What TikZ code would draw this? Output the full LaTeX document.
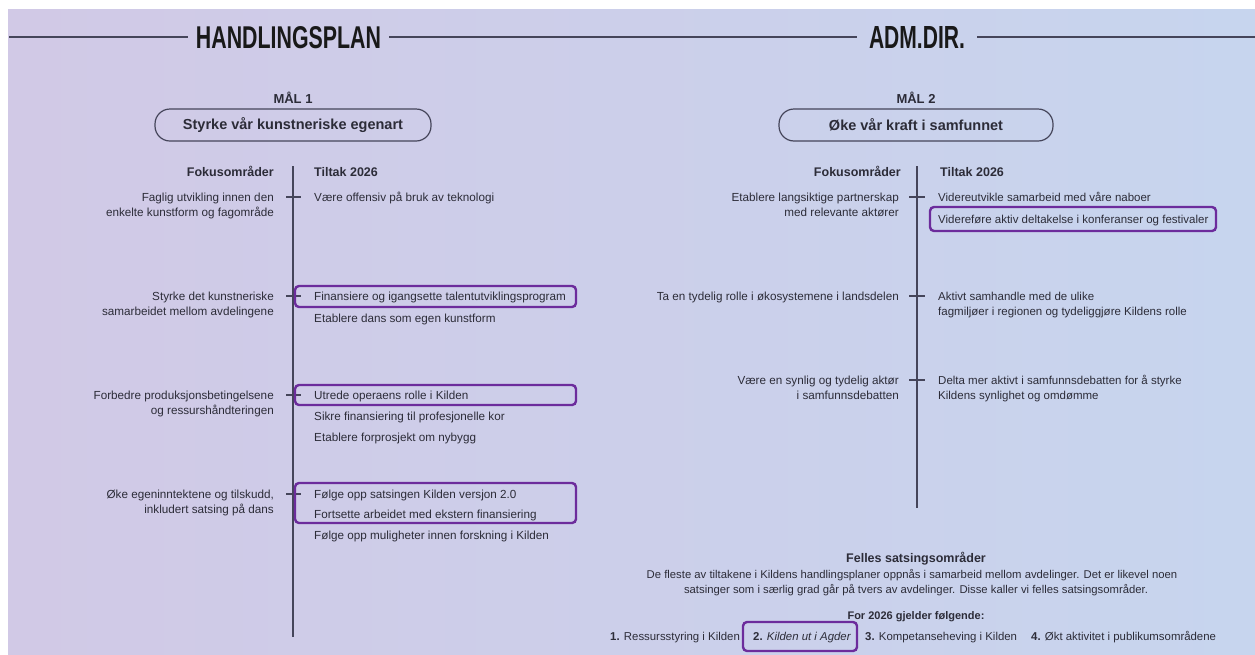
\documentclass[tikz,border=0pt]{standalone}
\usepackage{fontspec}
\setmainfont{Liberation Sans}
\usepackage{graphicx}
\definecolor{bgL}{HTML}{D1C9E6}
\definecolor{bgR}{HTML}{C7D5EE}
\definecolor{ink}{HTML}{2C2C38}
\definecolor{rulec}{HTML}{45455A}
\definecolor{hl}{HTML}{6C2C9C}
\begin{document}
\begin{tikzpicture}[x=1pt,y=-1pt,
  hdr/.style={inner xsep=11pt, inner ysep=0pt, text=black!90},
  hline/.style={draw=rulec, line width=1.4pt},
  vline/.style={draw=rulec, line width=1.6pt},
  mal/.style={font=\bfseries\fontsize{13}{15}\selectfont, text=ink, inner sep=0pt},
  goal/.style={draw=rulec, line width=1.2pt, rounded corners=15pt, minimum height=32pt,
    font=\bfseries\fontsize{14.5}{17}\selectfont, text=ink, inner sep=0pt},
  colhead/.style={font=\bfseries\fontsize{12.5}{15}\selectfont, text=ink, inner sep=0pt},
  focus/.style={font=\fontsize{11.7}{15.5}\selectfont, text=ink, inner sep=0pt, align=right, anchor=base east},
  tiltak/.style={font=\fontsize{11.7}{15.5}\selectfont, text=ink, inner sep=0pt, align=left, anchor=base west},
  rtiltak/.style={tiltak, font=\fontsize{11.5}{15.5}\selectfont},
  tick/.style={draw=rulec, line width=1.2pt},
  hlbox/.style={draw=hl, line width=2.4pt, rounded corners=4pt},
  para/.style={font=\fontsize{11.3}{15}\selectfont, text=ink, inner sep=0pt, anchor=base},
  item/.style={font=\fontsize{11.4}{14}\selectfont, text=ink, inner sep=0pt, anchor=base west}
]
\useasboundingbox (0,0) rectangle (1255,654);
\fill[white] (0,0) rectangle (1255,654);
\shade[left color=bgL, right color=bgR] (8,9) rectangle (1255,654);

% headers
\node[hdr, inner xsep=8pt] (h1) at (288.5,37.5) {\resizebox{185pt}{22pt}{\bfseries HANDLINGSPLAN}};
\node[hdr, inner xsep=12pt] (h2) at (917,37.5) {\resizebox{96pt}{22pt}{\bfseries ADM.DIR.}};
\coordinate (hl0) at (9,37);
\coordinate (hr0) at (1255,37);
\draw[hline] (hl0) -- (hl0 -| h1.west);
\draw[hline] (hl0 -| h1.east) -- (hl0 -| h2.west);
\draw[hline] (hl0 -| h2.east) -- (hr0);

% goals
\node[mal] (m1) at (293,98) {MÅL 1};
\node[mal] (m2) at (916,98) {MÅL 2};
\node[goal, minimum width=276pt] (g1) at (293,125) {Styrke vår kunstneriske egenart};
\node[goal, minimum width=274pt] (g2) at (916,125) {Øke vår kraft i samfunnet};

% ===== left section =====
\coordinate (lt) at (293,166);
\coordinate (lb) at (293,637);
\draw[vline] (lt) -- (lb);
\node[colhead, anchor=base east] (lfh) at (274,176) {Fokusområder};
\node[colhead, anchor=base west] (lth) at (314,176) {Tiltak 2026};

\foreach \y in {197,296,395,494} \draw[tick] (286,\y) -- (301,\y);

% two-line nodes: anchor is the baseline of the last line
\node[focus] (lf1) at (274,216.5) {Faglig utvikling innen den\\enkelte kunstform og fagområde};
\node[focus] (lf2) at (274,315.5) {Styrke det kunstneriske\\samarbeidet mellom avdelingene};
\node[focus] (lf3) at (274,414.5) {Forbedre produksjonsbetingelsene\\og ressurshåndteringen};
\node[focus] (lf4) at (274,513.5) {Øke egeninntektene og tilskudd,\\inkludert satsing på dans};

\node[tiltak] (lt11) at (314,201) {Være offensiv på bruk av teknologi};
\node[tiltak] (lt21) at (314,300) {Finansiere og igangsette talentutviklingsprogram};
\node[tiltak] (lt22) at (314,322) {Etablere dans som egen kunstform};
\node[tiltak] (lt31) at (314,399) {Utrede operaens rolle i Kilden};
\node[tiltak] (lt32) at (314,420) {Sikre finansiering til profesjonelle kor};
\node[tiltak] (lt33) at (314,441) {Etablere forprosjekt om nybygg};
\node[tiltak] (lt41) at (314,498) {Følge opp satsingen Kilden versjon 2.0};
\node[tiltak] (lt42) at (314,518) {Fortsette arbeidet med ekstern finansiering};
\node[tiltak] (lt43) at (314,539) {Følge opp muligheter innen forskning i Kilden};

\draw[hlbox] (295,286) rectangle (576,307);
\draw[hlbox] (295,385) rectangle (576,405);
\draw[hlbox] (295,483) rectangle (576,523);

% ===== right section =====
\coordinate (rt) at (917,166);
\coordinate (rb) at (917,508);
\draw[vline] (rt) -- (rb);
\node[colhead, anchor=base east] (rfh) at (901,176) {Fokusområder};
\node[colhead, anchor=base west] (rth) at (940,176) {Tiltak 2026};

\foreach \y in {197,296,380} \draw[tick] (909,\y) -- (925,\y);

\node[focus] (rf1) at (899,216.5) {Etablere langsiktige partnerskap\\med relevante aktører};
\node[focus] (rf2) at (899,300) {Ta en tydelig rolle i økosystemene i landsdelen};
\node[focus] (rf3) at (899,399.5) {Være en synlig og tydelig aktør\\i samfunnsdebatten};

\node[rtiltak] (rt11) at (938,201) {Videreutvikle samarbeid med våre naboer};
\node[rtiltak] (rt12) at (938,223) {Videreføre aktiv deltakelse i konferanser og festivaler};
\node[rtiltak] (rt21) at (938,315.5) {Aktivt samhandle med de ulike\\fagmiljøer i regionen og tydeliggjøre Kildens rolle};
\node[rtiltak] (rt31) at (938,399.5) {Delta mer aktivt i samfunnsdebatten for å styrke\\Kildens synlighet og omdømme};

\draw[hlbox] (930,207) rectangle (1216,231);

% ===== bottom =====
\node[para, font=\bfseries\fontsize{12.5}{15}\selectfont] (fs) at (916,562) {Felles satsingsområder};
\node[para] (p1) at (912,578) {De fleste av tiltakene i Kildens handlingsplaner oppnås i samarbeid mellom avdelinger. Det er likevel noen};
\node[para] (p2) at (916,593) {satsinger som i særlig grad går på tvers av avdelinger. Disse kaller vi felles satsingsområder.};
\node[para, font=\bfseries\fontsize{11}{14}\selectfont] (p3) at (916,619) {For 2026 gjelder følgende:};

\node[item] (i1) at (610,640) {\textbf{1.} Ressursstyring i Kilden};
\node[item] (i2) at (753,640) {\textbf{2.} \textit{Kilden ut i Agder}};
\node[item] (i3) at (865,640) {\textbf{3.} Kompetanseheving i Kilden};
\node[item] (i4) at (1031,640) {\textbf{4.} Økt aktivitet i publikumsområdene};
\draw[hlbox] (743,622) rectangle (857,651);
\end{tikzpicture}
\end{document}
